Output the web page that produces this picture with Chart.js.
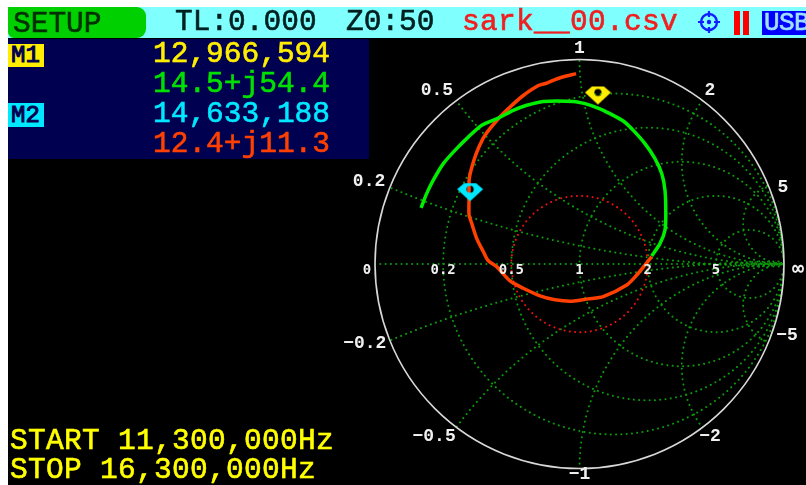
<!DOCTYPE html>
<html>
<head>
<meta charset="utf-8">
<script src="https://cdn.jsdelivr.net/npm/chart.js@4"></script>
<style>
	html, body { margin: 0; padding: 0; background: #fff; overflow: hidden; }
	#screen { position: absolute; left: 8px; top: 7px; width: 798px; height: 478px; background: #000; }
	#smith { position: absolute; left: 0; top: 0; }
	.box { position: absolute; }
	.txt {
		position: absolute;
		font: 29.5px "Liberation Mono", monospace;
		-webkit-text-stroke: 0.6px currentColor;
		line-height: 30px;
		white-space: pre;
	}
</style>
</head>
<body>
<div id="screen"></div>
<canvas id="smith" width="806" height="485"></canvas>

<!-- top bar -->
<div class="box" style="left:8px;top:7px;width:798px;height:31px;background:#80ffff"></div>
<div class="box" style="left:8px;top:7px;width:138px;height:31px;background:#00d000;border-radius:0 9px 9px 6px"></div>
<div class="txt" style="left:13px;top:9px;color:#003000">SETUP</div>
<div class="txt" style="left:175px;top:7px;color:#002020">TL:0.000</div>
<div class="txt" style="left:346px;top:7px;color:#002020">Z0:50</div>
<div class="txt" style="left:462px;top:7px;color:#f02020;letter-spacing:.3px">sark__00.csv</div>
<svg class="box" style="left:697px;top:10px" width="24" height="24" viewBox="0 0 24 24">
	<circle cx="12" cy="12" r="8" fill="none" stroke="#1020ff" stroke-width="2.4"/>
	<circle cx="12" cy="12" r="2.2" fill="#1020ff"/>
	<path d="M12 1v6M12 17v6M1 12h6M17 12h6" stroke="#1020ff" stroke-width="2.2"/>
</svg>
<div class="box" style="left:734px;top:11px;width:6px;height:24px;background:#ff0000"></div>
<div class="box" style="left:743px;top:11px;width:6px;height:24px;background:#ff0000"></div>
<div class="box" style="left:762px;top:11px;width:44px;height:24px;background:#0000ff;overflow:hidden">
	<div class="txt" style="left:2px;top:-1px;font-size:26px;line-height:26px;color:#a0e0ff;letter-spacing:-.6px">USB</div>
</div>

<!-- marker panel -->
<div class="box" style="left:8px;top:39px;width:361px;height:120px;background:#000050"></div>
<div class="box" style="left:8px;top:44px;width:36px;height:23px;background:#ffee00"></div>
<div class="txt" style="left:11px;top:41px;font-size:24px;color:#000050;-webkit-text-stroke:1px #000050">M1</div>
<div class="box" style="left:8px;top:103px;width:36px;height:24px;background:#00e8ff"></div>
<div class="txt" style="left:11px;top:101px;font-size:24px;color:#000050;-webkit-text-stroke:1px #000050">M2</div>
<div class="txt" style="left:153px;top:39px;color:#ffee00">12,966,594</div>
<div class="txt" style="left:153px;top:69px;color:#00e000">14.5+j54.4</div>
<div class="txt" style="left:153px;top:99px;color:#00e8ff">14,633,188</div>
<div class="txt" style="left:153px;top:129px;color:#ff4000">12.4+j11.3</div>

<!-- sweep range -->
<div class="txt" style="left:10px;top:426px;color:#ffff00;letter-spacing:.3px">START 11,300,000Hz</div>
<div class="txt" style="left:10px;top:455px;color:#ffff00;letter-spacing:.3px">STOP 16,300,000Hz</div>

<script>
// reflection coefficient (re, im)
const redRe = [-0.017, -0.095, -0.160, -0.201, -0.275, -0.340, -0.397, -0.462, -0.495, -0.519, -0.539, -0.540, -0.540, -0.527, -0.503, -0.470, -0.446, -0.405, -0.340, -0.275, -0.193, -0.120, -0.038, 0.043, 0.116, 0.231, 0.280, 0.320, 0.353];
const redIm = [0.933, 0.913, 0.887, 0.875, 0.826, 0.769, 0.712, 0.631, 0.566, 0.500, 0.419, 0.321, 0.240, 0.199, 0.126, 0.060, 0.016, -0.013, -0.083, -0.119, -0.156, -0.175, -0.182, -0.171, -0.160, -0.103, -0.054, -0.005, 0.036];
const greenRe = [-0.775, -0.747, -0.715, -0.666, -0.609, -0.544, -0.478, -0.397, -0.324, -0.258, -0.177, -0.030, 0.027, 0.100, 0.149, 0.214, 0.263, 0.320, 0.369, 0.402, 0.418, 0.422, 0.418, 0.394, 0.353];
const greenIm = [0.275, 0.346, 0.411, 0.492, 0.557, 0.622, 0.680, 0.715, 0.753, 0.778, 0.797, 0.797, 0.786, 0.761, 0.737, 0.701, 0.655, 0.590, 0.517, 0.444, 0.362, 0.248, 0.166, 0.101, 0.039];
const markerRe = [0.090, -0.535];
const markerIm = [0.826, 0.352];

// smith grid values
const resistances = [0.2, 0.5, 1, 2, 5];
const reactances = [0.2, 0.5, 1, 2, 5, -0.2, -0.5, -1, -2, -5];
const swrRadius = 1 / 3;

// tick labels
const rimLabels = ["1", "0.5", "2", "0.2", "5", "\u22120.2", "\u22125", "\u22120.5", "\u22122", "\u22121"];
const rimLabelRe = [0, -0.697, 0.638, -1.029, 0.995, -1.05, 1.015, -0.711, 0.638, 0];
const rimLabelIm = [1.056, 0.851, 0.851, 0.406, 0.377, -0.391, -0.352, -0.846, -0.846, -1.032];
const axisLabels = ["0", "0.2", "0.5", "1", "2", "5", "\u221e"];
const axisLabelRe = [-1.039, -0.667, -0.333, 0, 0.333, 0.667, 1.068];

function zip(xs, ys) {
	return xs.map((x, i) => ({ x: x, y: ys[i] }));
}

function eyeMarker(color) {
	const c = document.createElement("canvas");
	c.width = 28;
	c.height = 20;
	const g = c.getContext("2d");
	g.fillStyle = color;
	g.beginPath();
	g.moveTo(1, 7);
	g.lineTo(8, 1);
	g.lineTo(20, 1);
	g.lineTo(27, 7);
	g.lineTo(14, 19);
	g.closePath();
	g.fill();
	g.globalCompositeOperation = "destination-out";
	g.beginPath();
	g.arc(14, 7, 3.6, 0, Math.PI * 2);
	g.fill();
	return c;
}

const smithGrid = {
	id: "smithGrid",
	beforeDatasetsDraw(chart) {
		const ctx = chart.ctx;
		const sx = chart.scales.x;
		const sy = chart.scales.y;
		const unit = sx.getPixelForValue(1) - sx.getPixelForValue(0);

		function circle(re, im, rad) {
			ctx.beginPath();
			ctx.arc(sx.getPixelForValue(re), sy.getPixelForValue(im), rad * unit, 0, Math.PI * 2);
		}

		ctx.save();
		circle(0, 0, 1);
		ctx.clip();
		ctx.strokeStyle = "#0c980c";
		ctx.lineWidth = 2;
		ctx.lineCap = "round";
		ctx.setLineDash([0.1, 5.2]);
		resistances.forEach(r => {
			circle(r / (1 + r), 0, 1 / (1 + r));
			ctx.stroke();
		});
		reactances.forEach(x => {
			circle(1, 1 / x, 1 / Math.abs(x));
			ctx.stroke();
		});
		ctx.beginPath();
		ctx.moveTo(sx.getPixelForValue(-1), sy.getPixelForValue(0));
		ctx.lineTo(sx.getPixelForValue(1), sy.getPixelForValue(0));
		ctx.stroke();

		ctx.strokeStyle = "#f01010";
		circle(0, 0, swrRadius);
		ctx.stroke();
		ctx.restore();

		ctx.save();
		ctx.strokeStyle = "#d8d8d8";
		ctx.lineWidth = 1.6;
		circle(0, 0, 1);
		ctx.stroke();
		ctx.restore();
	},
	afterDraw(chart) {
		const ctx = chart.ctx;
		const sx = chart.scales.x;
		const sy = chart.scales.y;
		ctx.save();
		ctx.fillStyle = "#f0f0f0";
		ctx.textAlign = "center";
		ctx.textBaseline = "middle";
		ctx.font = 'bold 18px "Liberation Mono", monospace';
		rimLabels.forEach((t, i) => {
			ctx.fillText(t, sx.getPixelForValue(rimLabelRe[i]), sy.getPixelForValue(rimLabelIm[i]));
		});
		axisLabels.forEach((t, i) => {
			ctx.font = t === "\u221e" ? 'bold 20px "DejaVu Sans Mono", monospace' : 'bold 14px "DejaVu Sans Mono", monospace';
			ctx.fillText(t, sx.getPixelForValue(axisLabelRe[i]), sy.getPixelForValue(-0.029));
		});
		ctx.restore();
	},
};

new Chart(document.getElementById("smith"), {
	type: "scatter",
	data: {
		datasets: [
			{
				label: "M1",
				data: [zip(markerRe, markerIm)[0]],
				pointStyle: eyeMarker("#ffee00"),
				order: 0,
			},
			{
				label: "M2",
				data: [zip(markerRe, markerIm)[1]],
				pointStyle: eyeMarker("#00e8ff"),
				order: 0,
			},
			{
				label: "Reactance trace",
				data: zip(greenRe, greenIm),
				showLine: true,
				borderColor: "#00ee00",
				borderWidth: 3.5,
				pointRadius: 0,
				tension: 0.25,
				order: 1,
			},
			{
				label: "Resistance trace",
				data: zip(redRe, redIm),
				showLine: true,
				borderColor: "#ff4000",
				borderWidth: 3.5,
				pointRadius: 0,
				tension: 0.25,
				order: 2,
			},
		],
	},
	options: {
		responsive: false,
		animation: false,
		layout: { padding: { left: 375, right: 22, top: 60, bottom: 17 } },
		plugins: {
			legend: { display: false },
			tooltip: { enabled: false },
		},
		scales: {
			x: { type: "linear", min: -1, max: 1, display: false },
			y: { type: "linear", min: -1, max: 1, display: false },
		},
	},
	plugins: [smithGrid],
});
</script>
</body>
</html>
